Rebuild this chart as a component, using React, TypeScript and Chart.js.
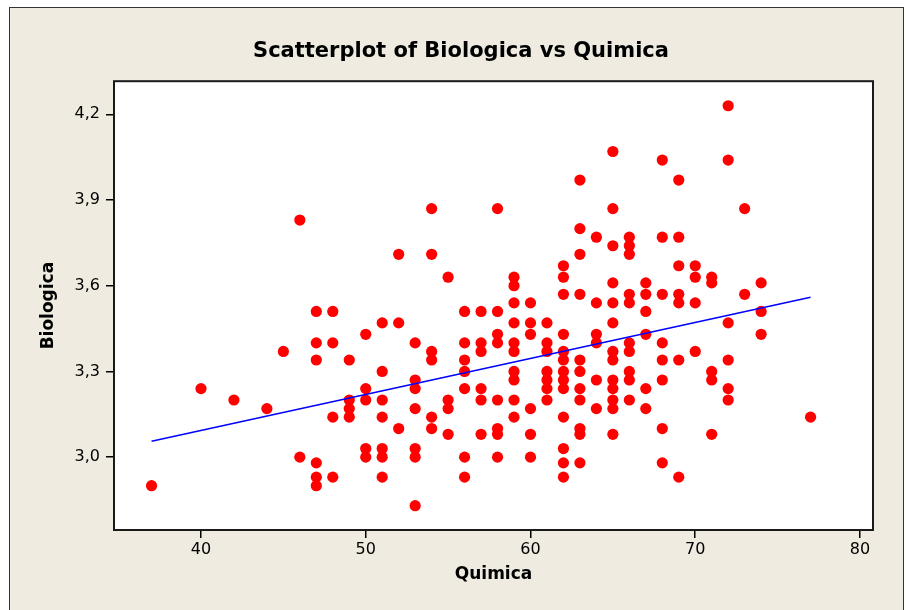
import { useEffect, useRef } from "react";
import { Chart, registerables } from "chart.js";

Chart.register(...registerables);

const chartTitle = "Scatterplot of Biologica vs Quimica";
const xTitle = "Quimica";
const yTitle = "Biologica";

const xTicks = [40, 50, 60, 70, 80];
const yTicks = [3.0, 3.3, 3.6, 3.9, 4.2];

// Quimica (x) values, grouped by column
const quimica = [
  37,
  40,
  42,
  44,
  45,
  46, 46,
  47, 47, 47, 47, 47, 47,
  48, 48, 48, 48,
  49, 49, 49, 49,
  50, 50, 50, 50, 50,
  51, 51, 51, 51, 51, 51, 51,
  52, 52, 52,
  53, 53, 53, 53, 53, 53, 53,
  54, 54, 54, 54, 54, 54,
  55, 55, 55, 55,
  56, 56, 56, 56, 56, 56, 56,
  57, 57, 57, 57, 57, 57,
  58, 58, 58, 58, 58, 58, 58, 58,
  59, 59, 59, 59, 59, 59, 59, 59, 59, 59,
  60, 60, 60, 60, 60, 60,
  61, 61, 61, 61, 61, 61, 61,
  62, 62, 62, 62, 62, 62, 62, 62, 62, 62, 62, 62, 62,
  63, 63, 63, 63, 63, 63, 63, 63, 63, 63, 63,
  64, 64, 64, 64, 64, 64,
  65, 65, 65, 65, 65, 65, 65, 65, 65, 65, 65, 65, 65,
  66, 66, 66, 66, 66, 66, 66, 66, 66, 66,
  67, 67, 67, 67, 67, 67,
  68, 68, 68, 68, 68, 68, 68, 68,
  69, 69, 69, 69, 69, 69, 69,
  70, 70, 70, 70,
  71, 71, 71, 71, 71,
  72, 72, 72, 72, 72, 72,
  73, 73,
  74, 74, 74,
  77,
];

// Biologica (y) values, matching quimica
const biologica = [
  2.9,
  3.24,
  3.2,
  3.17,
  3.37,
  3.83, 3.0,
  3.51, 3.4, 3.34, 2.98, 2.93, 2.9,
  3.51, 3.4, 3.14, 2.93,
  3.34, 3.2, 3.17, 3.14,
  3.43, 3.24, 3.2, 3.03, 3.0,
  3.47, 3.3, 3.2, 3.14, 3.03, 3.0, 2.93,
  3.71, 3.47, 3.1,
  3.4, 3.27, 3.24, 3.17, 3.03, 3.0, 2.83,
  3.87, 3.71, 3.37, 3.34, 3.14, 3.1,
  3.63, 3.2, 3.17, 3.08,
  3.51, 3.4, 3.34, 3.3, 3.24, 3.0, 2.93,
  3.51, 3.4, 3.37, 3.24, 3.2, 3.08,
  3.87, 3.51, 3.43, 3.4, 3.2, 3.1, 3.08, 3.0,
  3.63, 3.6, 3.54, 3.47, 3.4, 3.37, 3.3, 3.27, 3.2, 3.14,
  3.54, 3.47, 3.43, 3.17, 3.08, 3.0,
  3.47, 3.4, 3.37, 3.3, 3.27, 3.24, 3.2,
  3.67, 3.63, 3.57, 3.43, 3.37, 3.34, 3.3, 3.27, 3.24, 3.14, 3.03, 2.98, 2.93,
  3.97, 3.8, 3.71, 3.57, 3.34, 3.3, 3.24, 3.2, 3.1, 3.08, 2.98,
  3.77, 3.54, 3.43, 3.4, 3.27, 3.17,
  4.07, 3.87, 3.74, 3.61, 3.54, 3.47, 3.37, 3.34, 3.27, 3.24, 3.2, 3.17, 3.08,
  3.77, 3.74, 3.71, 3.57, 3.54, 3.4, 3.37, 3.3, 3.27, 3.2,
  3.61, 3.57, 3.51, 3.43, 3.24, 3.17,
  4.04, 3.77, 3.57, 3.4, 3.34, 3.27, 3.1, 2.98,
  3.97, 3.77, 3.67, 3.57, 3.54, 3.34, 2.93,
  3.67, 3.63, 3.54, 3.37,
  3.63, 3.61, 3.3, 3.27, 3.08,
  4.23, 4.04, 3.47, 3.34, 3.24, 3.2,
  3.87, 3.57,
  3.61, 3.51, 3.43,
  3.14,
];

// Fitted line end points
const fitQuimica = [37, 77];
const fitBiologica = [3.056, 3.56];

export default function App() {
  const ref = useRef<HTMLCanvasElement>(null);

  useEffect(() => {
    if (!ref.current) return;
    Chart.defaults.font.family = "'DejaVu Sans', sans-serif";

    const frame = {
      id: "frame",
      beforeDraw(chart: any) {
        const { ctx, chartArea: a, width, height } = chart;
        ctx.save();
        ctx.fillStyle = "#ffffff";
        ctx.fillRect(0, 0, width, height);
        ctx.fillStyle = "#efebe1";
        ctx.fillRect(9, 7, width - 12, height);
        ctx.strokeStyle = "#333333";
        ctx.lineWidth = 1;
        ctx.strokeRect(9.5, 7.5, width - 12, height + 10);
        ctx.fillStyle = "#ffffff";
        ctx.fillRect(a.left, a.top, a.right - a.left, a.bottom - a.top);
        ctx.restore();
      },
      afterDraw(chart: any) {
        const { ctx, chartArea: a } = chart;
        ctx.save();
        ctx.strokeStyle = "#1a1a1a";
        ctx.lineWidth = 2;
        ctx.strokeRect(a.left, a.top, a.right - a.left, a.bottom - a.top);
        ctx.restore();
      },
    };

    const chart = new Chart(ref.current, {
      type: "scatter",
      data: {
        datasets: [
          {
            data: fitQuimica.map((x, i) => ({ x, y: fitBiologica[i] })),
            showLine: true,
            borderColor: "#0000ff",
            borderWidth: 1.5,
            pointRadius: 0,
            pointHoverRadius: 0,
            order: 0,
          } as any,
          {
            data: quimica.map((x, i) => ({ x, y: biologica[i] })),
            backgroundColor: "#ff0000",
            borderWidth: 0,
            pointRadius: 5.6,
            pointHoverRadius: 5.6,
            order: 1,
          },
        ],
      },
      options: {
        responsive: false,
        animation: false,
        events: [],
        layout: { padding: { left: 49, top: 0, right: 33, bottom: 0 } },
        plugins: {
          legend: { display: false },
          tooltip: { enabled: false },
          title: {
            display: true,
            text: chartTitle,
            color: "#000000",
            font: { size: 21, weight: "bold" },
            padding: { top: 39, bottom: 17 },
          },
        },
        scales: {
          x: {
            type: "linear",
            min: 34.72,
            max: 80.79,
            afterBuildTicks: (s: any) => {
              s.ticks = xTicks.map((v) => ({ value: v }));
            },
            afterFit: (s: any) => {
              s.height = 80;
            },
            ticks: {
              color: "#000000",
              font: { size: 16 },
              padding: 2,
              autoSkip: false,
              maxRotation: 0,
              callback: (v: any) => String(v),
            },
            grid: {
              drawOnChartArea: false,
              drawTicks: true,
              tickLength: 8,
              color: "#000000",
              lineWidth: 1.5,
            },
            border: { display: false },
            title: {
              display: true,
              text: xTitle,
              color: "#000000",
              font: { size: 17, weight: "bold" },
              padding: { top: 0, bottom: 25 },
            },
          },
          y: {
            type: "linear",
            min: 2.745,
            max: 4.316,
            afterBuildTicks: (s: any) => {
              s.ticks = yTicks.map((v) => ({ value: v }));
            },
            afterFit: (s: any) => {
              s.width = 65;
            },
            ticks: {
              color: "#000000",
              font: { size: 16 },
              padding: 6,
              autoSkip: false,
              callback: (v: any) => Number(v).toFixed(1).replace(".", ","),
            },
            grid: {
              drawOnChartArea: false,
              drawTicks: true,
              tickLength: 8,
              color: "#000000",
              lineWidth: 1.5,
            },
            border: { display: false },
            title: {
              display: true,
              text: yTitle,
              color: "#000000",
              font: { size: 17, weight: "bold" },
              padding: { top: -11, bottom: 0 },
            },
          },
        },
      },
      plugins: [frame],
    });

    return () => chart.destroy();
  }, []);

  return (
    <div style={{ position: "absolute", left: 0, top: 0, width: 906, height: 610 }}>
      <canvas ref={ref} width={906} height={610} style={{ display: "block" }} />
    </div>
  );
}
